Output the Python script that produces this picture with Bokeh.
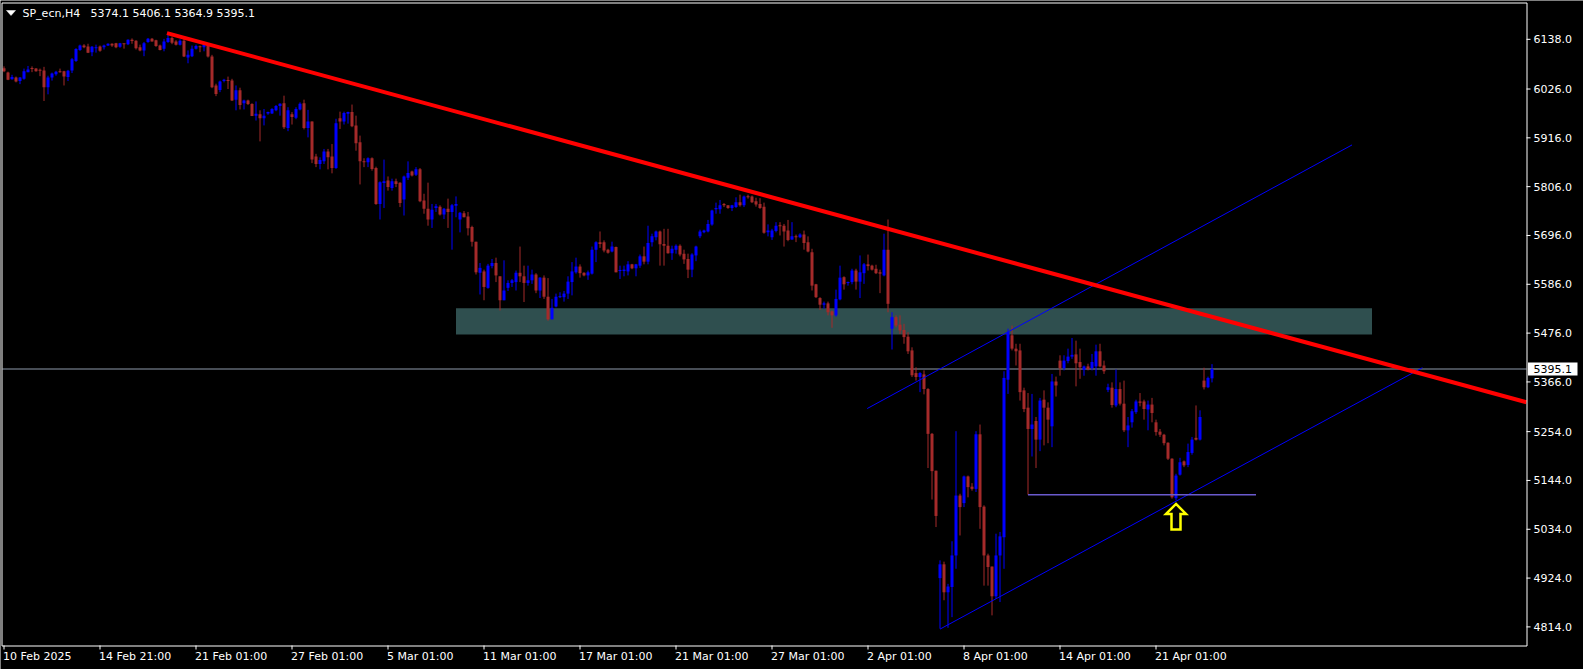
from bokeh.plotting import figure
from bokeh.models import Range1d, ColumnDataSource
from bokeh.embed import file_html
from bokeh.resources import INLINE
from bokeh.core.properties import value

symbol = "SP_ecn,H4"

opens = [
    6073,6063,6048,6052,6044,6049,6064,6072,6072,6069,
    6068,6030,6052,6059,6066,6066,6053,6068,6089,6114,
    6124,6122,6109,6118,6122,6120,6124,6128,6129,6121,
    6128,6127,6137,6135,6120,6113,6132,6139,6136,6124,
    6117,6132,6141,6133,6126,6135,6097,6100,6117,6122,
    6120,6126,6099,6034,6024,6044,6045,6045,6002,6023,
    5994,6000,5992,5966,5969,5960,5971,5971,5978,5988,
    5994,5938,5969,5961,5980,5994,5938,5953,5874,5857,
    5863,5885,5874,5848,5960,5953,5970,5974,5944,5906,
    5863,5861,5870,5848,5767,5814,5820,5803,5818,5815,
    5777,5826,5840,5833,5845,5775,5756,5732,5758,5761,
    5743,5756,5749,5763,5732,5746,5739,5715,5682,5612,
    5615,5578,5627,5634,5604,5550,5578,5589,5591,5612,
    5604,5589,5595,5608,5572,5601,5558,5507,5536,5557,
    5557,5565,5591,5613,5626,5612,5606,5610,5664,5681,
    5681,5664,5660,5670,5616,5616,5615,5631,5622,5628,
    5649,5637,5681,5692,5705,5677,5673,5656,5664,5673,
    5655,5643,5619,5651,5694,5703,5705,5721,5755,5755,
    5767,5764,5758,5760,5771,5764,5784,5784,5773,5767,
    5761,5703,5692,5706,5718,5718,5707,5687,5694,5692,
    5698,5681,5658,5586,5555,5540,5543,5525,5516,5552,
    5602,5589,5591,5617,5592,5611,5631,5628,5621,5613,
    5606,5664,5486,5512,5495,5483,5468,5437,5386,5377,
    5383,5350,5249,5166,4924,4955,4892,4904,4975,5110,
    5093,5153,5130,5125,5248,5085,4975,4950,4883,4975,
    5016,5371,5471,5441,5437,5347,5308,5260,5278,5236,
    5326,5308,5266,5367,5414,5397,5413,5423,5428,5411,
    5393,5401,5397,5401,5435,5403,5348,5353,5313,5350,
    5317,5257,5275,5298,5322,5322,5304,5315,5275,5254,
    5247,5229,5193,5104,5157,5187,5179,5206,5240,5236,
    5369,5354,5374.1,
]
highs = [
    6077,6065,6058,6054,6053,6072,6078,6077,6073,6072,
    6076,6056,6063,6067,6072,6067,6069,6096,6118,6126,
    6127,6128,6123,6126,6124,6126,6129,6129,6130,6130,
    6128,6138,6140,6136,6126,6132,6141,6141,6137,6126,
    6139,6152,6144,6136,6138,6139,6113,6124,6126,6124,
    6127,6128,6103,6038,6045,6049,6054,6049,6034,6029,
    6002,6002,5994,5998,5978,5981,5975,5983,5990,5994,
    6011,5985,5974,5985,5996,6002,5979,5953,5880,5872,
    5891,5891,5902,5959,5975,5975,5975,5991,5966,5921,
    5870,5872,5872,5851,5818,5867,5829,5824,5824,5816,
    5831,5863,5842,5850,5848,5790,5815,5767,5767,5764,
    5758,5779,5767,5784,5749,5751,5749,5718,5682,5634,
    5619,5632,5643,5646,5604,5640,5595,5598,5617,5671,
    5628,5628,5619,5611,5602,5606,5600,5553,5565,5568,
    5571,5604,5636,5646,5631,5613,5617,5671,5683,5705,
    5685,5666,5682,5671,5628,5628,5638,5632,5632,5653,
    5671,5718,5700,5707,5707,5711,5711,5673,5676,5676,
    5664,5655,5656,5673,5709,5709,5731,5754,5770,5776,
    5769,5764,5765,5782,5788,5786,5788,5786,5781,5780,
    5770,5721,5711,5726,5726,5722,5731,5726,5698,5701,
    5707,5694,5666,5587,5557,5547,5547,5527,5574,5628,
    5604,5592,5621,5621,5651,5634,5653,5630,5630,5619,
    5700,5732,5523,5516,5516,5497,5478,5444,5399,5388,
    5392,5352,5251,5166,4964,4961,4911,5007,5255,5114,
    5155,5155,5138,5255,5270,5088,4979,4950,5024,5028,
    5390,5486,5493,5452,5452,5353,5341,5339,5287,5330,
    5347,5320,5384,5378,5426,5426,5441,5465,5459,5441,
    5403,5407,5429,5450,5452,5414,5362,5365,5394,5365,
    5369,5287,5305,5326,5341,5326,5324,5330,5281,5260,
    5249,5230,5194,5159,5195,5189,5227,5242,5313,5302,
    5398,5378,5406.1,
]
lows = [
    6064,6046,6047,6041,6037,6047,6064,6064,6065,6055,
    5999,6014,6045,6056,6063,6034,6044,6062,6087,6112,
    6118,6107,6100,6108,6110,6115,6123,6121,6118,6119,
    6117,6125,6128,6115,6111,6100,6130,6133,6121,6113,
    6111,6130,6127,6124,6124,6098,6084,6098,6115,6109,
    6111,6097,6028,6010,6019,6041,6026,5999,5978,5980,
    5980,5990,5965,5955,5908,5944,5968,5970,5976,5966,
    5936,5931,5946,5958,5978,5935,5917,5859,5850,5845,
    5857,5845,5836,5846,5936,5946,5948,5940,5887,5811,
    5850,5850,5842,5765,5732,5758,5797,5797,5805,5760,
    5741,5821,5829,5830,5771,5745,5718,5713,5749,5741,
    5733,5713,5664,5737,5703,5737,5696,5671,5608,5563,
    5550,5576,5622,5591,5527,5550,5571,5580,5572,5591,
    5546,5583,5587,5566,5555,5553,5504,5507,5534,5555,
    5547,5553,5561,5610,5601,5604,5596,5608,5636,5668,
    5658,5655,5658,5613,5598,5604,5606,5620,5604,5623,
    5631,5631,5671,5685,5628,5628,5655,5641,5655,5649,
    5632,5600,5602,5638,5690,5701,5703,5718,5745,5745,
    5760,5756,5751,5758,5761,5760,5779,5769,5761,5756,
    5700,5694,5686,5703,5696,5671,5683,5686,5681,5690,
    5664,5658,5572,5555,5528,5531,5516,5488,5513,5550,
    5574,5583,5586,5574,5555,5587,5617,5617,5609,5566,
    5604,5523,5439,5489,5474,5452,5429,5377,5369,5343,
    5338,5172,5101,5039,4810,4874,4812,4836,4945,5020,
    5084,5106,5121,5118,5035,4907,4907,4840,4877,4870,
    4945,5339,5437,5403,5324,5298,5112,5198,5172,5210,
    5223,5228,5219,5333,5380,5392,5408,5418,5356,5373,
    5380,5392,5392,5380,5399,5384,5343,5308,5309,5313,
    5253,5219,5263,5294,5311,5281,5257,5275,5245,5242,
    5223,5190,5103,5099,5155,5174,5174,5202,5234,5234,
    5349,5352,5364.9,
]
closes = [
    6066,6047,6053,6043,6052,6066,6070,6071,6066,6067,
    6030,6052,6061,6065,6064,6054,6067,6093,6116,6124,
    6120,6108,6121,6120,6112,6124,6128,6124,6120,6129,
    6127,6137,6134,6118,6113,6129,6139,6133,6123,6114,
    6133,6141,6130,6126,6135,6099,6103,6117,6123,6120,
    6126,6099,6030,6015,6043,6047,6044,6000,6023,5990,
    6000,5992,5965,5970,5960,5966,5974,5981,5988,5993,
    5940,5978,5963,5981,5993,5938,5953,5867,5857,5866,
    5885,5872,5848,5949,5953,5972,5974,5942,5904,5863,
    5861,5870,5846,5767,5816,5818,5805,5818,5812,5769,
    5829,5837,5831,5845,5773,5756,5732,5754,5762,5743,
    5756,5749,5764,5767,5747,5737,5712,5682,5613,5623,
    5580,5628,5634,5606,5550,5572,5589,5595,5612,5604,
    5589,5595,5608,5572,5601,5558,5507,5533,5558,5558,
    5565,5592,5615,5626,5611,5606,5613,5664,5681,5677,
    5662,5657,5671,5613,5617,5619,5631,5622,5631,5649,
    5637,5679,5694,5705,5676,5673,5656,5666,5673,5653,
    5642,5619,5653,5671,5705,5707,5722,5752,5758,5764,
    5764,5758,5764,5771,5764,5784,5782,5771,5766,5758,
    5702,5707,5707,5718,5717,5705,5686,5694,5692,5698,
    5679,5660,5583,5557,5540,5543,5523,5516,5553,5601,
    5586,5591,5617,5592,5613,5631,5627,5619,5611,5610,
    5664,5542,5512,5493,5482,5467,5435,5381,5377,5386,
    5350,5249,5165,5064,4955,4892,4905,4975,5110,5084,
    5153,5129,5125,5248,5084,4975,4949,4883,4975,5018,
    5375,5478,5441,5435,5343,5305,5260,5270,5236,5324,
    5308,5281,5367,5358,5397,5414,5423,5427,5408,5399,
    5401,5395,5411,5435,5401,5390,5354,5314,5350,5317,
    5257,5268,5300,5322,5319,5305,5315,5296,5253,5247,
    5228,5193,5106,5155,5185,5178,5208,5236,5236,5287,
    5354,5375,5395.1,
]

x_tick_bars = [0, 24, 48, 72, 96, 120, 144, 168, 192, 216, 240, 264, 288]
x_tick_labels = ["10 Feb 2025", "14 Feb 21:00", "21 Feb 01:00", "27 Feb 01:00",
                 "5 Mar 01:00", "11 Mar 01:00", "17 Mar 01:00", "21 Mar 01:00",
                 "27 Mar 01:00", "2 Apr 01:00", "8 Apr 01:00", "14 Apr 01:00",
                 "21 Apr 01:00"]
y_tick_values = [6138, 6026, 5916, 5806, 5696, 5586, 5476, 5366, 5254, 5144, 5034, 4924, 4814]

red_trend_bars = [40.75, 380.75]
red_trend_prices = [6152, 5320]
channel_upper_bars = [215.8, 337.0]
channel_upper_prices = [5306, 5900]
channel_lower_bars = [234.0, 354.6]
channel_lower_prices = [4809, 5398]
support_bars = [256, 313]
support_price = 5112
zone_bars = [113, 342]
zone_prices = [5473, 5532]
arrow_bar = 293
arrow_price = 5091
bid_price = 5395.1

# ---- layout (pixels of the chart area inside the canvas) ----
W, H = 1583, 669
AL, AR, AT, AB = 2, 1526, 3, 645          # chart area edges in canvas pixels
X0, X1 = -0.375, 380.625                   # bar-index range of the chart area
Y0, Y1 = 4772.1, 6218.7                    # price range of the chart area
ux = (X1 - X0) / (AR - AL)                 # data units per pixel
uy = (Y1 - Y0) / (AB - AT)


def px2x(px):
    return X0 + (px - AL) * ux


def py2y(py):
    return Y1 - (py - AT) * uy


FONT = "DejaVu Sans"
FS = "11px"
BULL = "#0000ff"
BEAR = "#a52a2a"

p = figure(width=W, height=H, x_range=Range1d(px2x(0), px2x(W)), y_range=Range1d(py2y(H), py2y(0)),
           output_backend="svg", toolbar_location=None, x_axis_location=None, y_axis_location=None,
           min_border_left=0, min_border_right=0, min_border_top=0, min_border_bottom=0,
           background_fill_color="black", border_fill_color="black", outline_line_color=None)
p.grid.visible = False

# zone
p.quad(left=[zone_bars[0]], right=[zone_bars[1]], bottom=[zone_prices[0]], top=[zone_prices[1]],
       fill_color="#2f4f4f", line_color=None)

# bid line across the chart area
p.line([X0, X1], [bid_price, bid_price], line_color="#8e9aab", line_width=1)

# candles
n = len(opens)
xs = list(range(n))
hi = [max(h, o, c) for h, o, c in zip(highs, opens, closes)]
lo = [min(l, o, c) for l, o, c in zip(lows, opens, closes)]
bot = [min(o, c) for o, c in zip(opens, closes)]
top = [max(max(o, c), min(o, c) + uy) for o, c in zip(opens, closes)]
col = [BULL if c >= o else BEAR for o, c in zip(opens, closes)]
src = ColumnDataSource(dict(x=xs, hi=hi, lo=lo, top=top, bot=bot, col=col))
p.segment(x0="x", y0="hi", x1="x", y1="lo", line_color="col", line_width=1, source=src)
p.vbar(x="x", width=3 * ux, top="top", bottom="bot", fill_color="col", line_color=None, source=src)

# channel lines
p.line(channel_upper_bars, channel_upper_prices, line_color="#0000ff", line_width=1)
p.line(channel_lower_bars, channel_lower_prices, line_color="#0000ff", line_width=1)
# support horizontal
p.line(support_bars, [support_price, support_price], line_color="#6a5acd", line_width=1.5)

# red trendline (ray to the right edge of the chart area)
slope = (red_trend_prices[1] - red_trend_prices[0]) / (red_trend_bars[1] - red_trend_bars[0])
p.line([red_trend_bars[0], X1], [red_trend_prices[0], red_trend_prices[0] + slope * (X1 - red_trend_bars[0])],
       line_color="#ff0000", line_width=4)

# arrow
arrow_shape = [(0, 0), (10, 10), (4.5, 10), (4.5, 25.5), (-4.5, 25.5), (-4.5, 10), (-10, 10)]
p.patch([arrow_bar + dx * ux for dx, dy in arrow_shape],
        [arrow_price - dy * uy for dx, dy in arrow_shape],
        fill_color="black", line_color="#ffff00", line_width=2.5, line_join="miter")

# chart area border
p.quad(left=[X0 - 0.5 * ux], right=[X1 + 0.5 * ux], bottom=[Y0 - 0.5 * uy], top=[Y1 + 0.5 * uy],
       fill_color=None, line_color="white", line_width=1)

# price scale (right)
p.segment(x0=[X1] * len(y_tick_values), y0=y_tick_values, x1=[X1 + 4 * ux] * len(y_tick_values),
          y1=y_tick_values, line_color="white", line_width=1)
p.text(x=[X1 + 7 * ux] * len(y_tick_values), y=y_tick_values,
       text=[f"{v:.1f}" for v in y_tick_values], text_color="white", text_font=value(FONT),
       text_font_size=FS, text_baseline="middle", text_align="left")

# time scale (bottom)
p.segment(x0=x_tick_bars, y0=[Y0] * len(x_tick_bars), x1=x_tick_bars, y1=[Y0 - 4 * uy] * len(x_tick_bars),
          line_color="white", line_width=1)
p.text(x=[b - 1 * ux for b in x_tick_bars], y=[py2y(656)] * len(x_tick_bars), text=x_tick_labels,
       text_color="white", text_font=value(FONT), text_font_size=FS, text_baseline="middle",
       text_align="left")

# bid price box
p.quad(left=[X1 + 1.5 * ux], right=[X1 + 51 * ux], bottom=[bid_price - 6.6 * uy], top=[bid_price + 6.6 * uy],
       fill_color="white", line_color=None)
p.text(x=[X1 + 7 * ux], y=[bid_price], text=[f"{bid_price:.1f}"], text_color="black",
       text_font=value(FONT), text_font_size=FS, text_baseline="middle", text_align="left")

# header
tri = [(6, 10), (15, 10), (10.5, 15)]
p.patch([px2x(a) for a, b in tri], [py2y(b) for a, b in tri], fill_color="white", line_color="white",
        line_width=0.5)
last_ohlc = f"{opens[-1]:.1f} {highs[-1]:.1f} {lows[-1]:.1f} {closes[-1]:.1f}"
p.text(x=[px2x(22), px2x(90)], y=[py2y(13), py2y(13)], text=[symbol, last_ohlc], text_color="white",
       text_font=value(FONT), text_font_size=FS, text_baseline="middle", text_align="left")

open("out.html", "w").write(file_html(p, INLINE))
